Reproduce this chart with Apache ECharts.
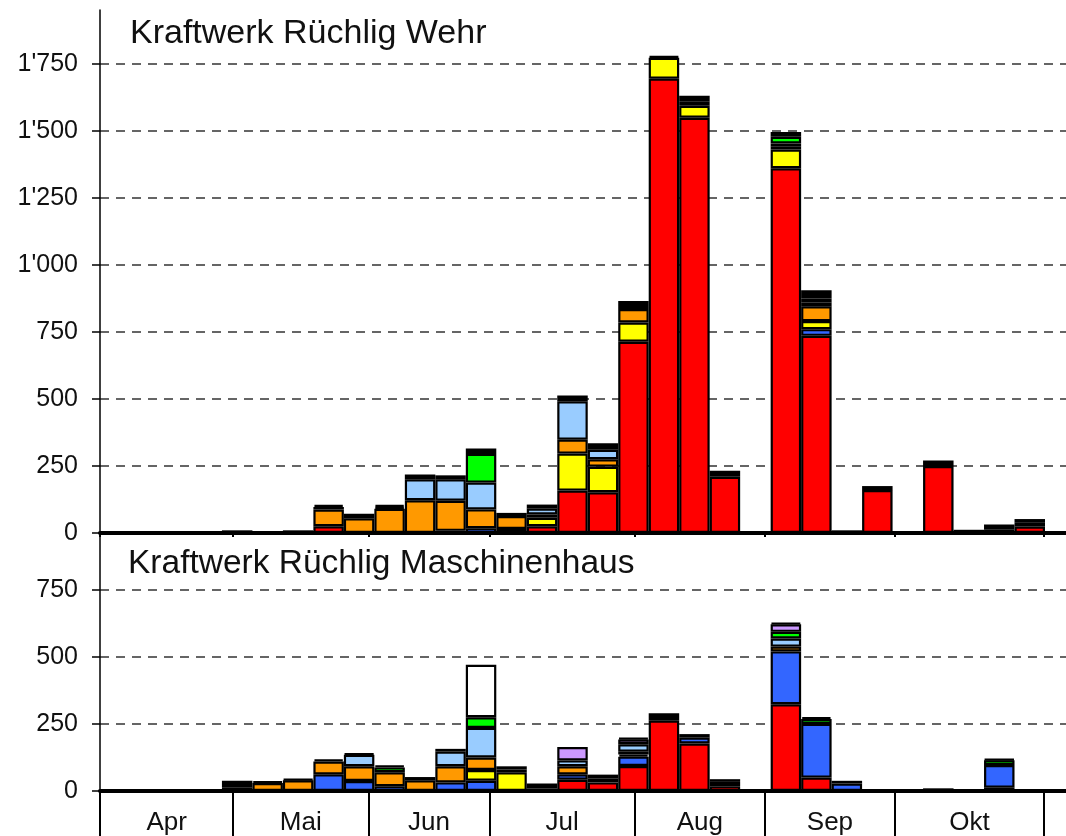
<!DOCTYPE html>
<html>
<head>
<meta charset="utf-8">
<script src="https://cdn.jsdelivr.net/npm/echarts@6/dist/echarts.min.js"></script>
<style>
  html, body { margin: 0; padding: 0; background: #fff; }
  #chart { width: 1066px; height: 836px; }
</style>
</head>
<body>
<div id="chart"></div>
<script>
// ---- data (weekly slots, 31 weeks from early April to end of October) ----
const weeks = Array.from({ length: 31 }, (_, i) => 'W' + (i + 1));
const monthNames = ['Apr', 'Mai', 'Jun', 'Jul', 'Aug', 'Sep', 'Okt'];
// month boundaries expressed in week-slot units
const monthBounds = [0, 4.37, 8.80, 12.78, 17.54, 21.81, 26.08, 30.97];
const yTicksTop = [0, 250, 500, 750, 1000, 1250, 1500, 1750];
const yTicksBottom = [0, 250, 500, 750];

const seriesNames = ['rot', 'blau', 'gelb', 'braun', 'orange', 'hellblau', 'gruen', 'lila', 'schwarz', 'weiss'];
const seriesColors = ['#ff0000', '#3366ff', '#ffff00', '#996600', '#ff9900', '#99ccff', '#00ff00', '#cc99ff', '#000000', '#ffffff'];

// Kraftwerk Rüchlig Wehr
const wehrRed      = [0,0,0,0,0,0,0,25,0,0,0,0,0,0,25,158,152,713,1694,1548,210,0,1360,735,0,160,0,250,0,0,24];
const wehrBlue     = [0,0,0,0,0,0,0,0,0,0,0,8,18,15,0,0,0,0,0,0,0,0,0,25,0,0,0,0,0,0,0];
const wehrYellow   = [0,0,0,0,0,0,0,0,0,0,0,0,0,0,32,138,95,72,78,45,0,0,70,30,0,0,0,0,0,0,0];
const wehrBrown    = [0,0,0,0,0,0,0,0,0,0,0,0,0,0,12,0,0,0,0,0,0,0,12,0,0,0,0,0,0,0,0];
const wehrOrange   = [0,0,0,0,0,0,0,62,55,90,122,112,70,48,0,52,28,50,6,15,0,0,0,55,0,0,0,0,0,12,14];
const wehrLBlue    = [0,0,0,0,0,0,0,10,0,0,78,80,100,0,22,143,35,0,0,0,0,0,10,15,0,0,0,0,0,0,0];
const wehrGreen    = [0,0,0,0,0,0,0,0,0,7,0,0,107,0,0,0,0,0,0,0,0,0,25,15,0,0,0,0,0,0,0];
const wehrLilac    = [0,0,0,0,0,0,0,0,0,0,0,0,0,0,0,0,0,0,0,0,0,0,0,0,0,0,0,0,0,0,0];
const wehrBlack    = [0,0,0,0,10,0,10,8,17,8,18,15,20,12,15,22,25,30,0,22,22,0,18,30,10,15,0,20,0,20,14];
const wehrWhite    = [0,0,0,0,0,0,0,0,0,0,0,0,0,0,0,0,0,0,0,0,0,0,0,0,0,0,0,0,12,0,0];

// Kraftwerk Rüchlig Maschinenhaus
const mhRed        = [0,0,0,0,0,0,0,0,0,0,0,0,0,0,0,42,32,93,262,177,18,0,323,50,0,0,0,0,0,12,0];
const mhBlue       = [0,0,0,0,0,0,0,62,37,18,0,32,38,0,0,20,0,35,0,22,16,0,197,200,28,0,0,0,0,85,0];
const mhYellow     = [0,0,0,0,0,0,0,0,0,0,0,0,40,70,0,0,0,0,0,0,0,0,0,0,0,0,0,0,0,0,0];
const mhBrown      = [0,0,0,0,12,0,0,0,0,0,0,0,0,10,10,0,14,8,0,0,0,0,0,0,0,0,0,0,0,0,0];
const mhOrange     = [0,0,0,0,0,30,40,48,55,52,40,60,47,0,0,30,0,10,0,0,0,0,18,0,0,0,0,0,0,0,0];
const mhLBlue      = [0,0,0,0,0,0,0,0,43,0,0,55,110,0,0,22,0,28,0,0,0,0,30,0,0,0,0,0,0,0,0];
const mhGreen      = [0,0,0,0,0,0,0,0,0,18,0,0,40,0,0,0,0,0,0,0,0,0,25,18,0,0,0,0,0,18,0];
const mhLilac      = [0,0,0,0,0,0,0,0,0,0,0,0,0,0,0,50,0,18,0,0,0,0,28,0,0,0,0,0,0,0,0];
const mhBlack      = [0,0,0,0,26,6,5,8,5,7,12,10,0,12,18,0,15,6,28,13,10,0,6,8,10,0,0,10,0,4,0];
const mhWhite      = [0,0,0,0,0,0,0,0,0,0,0,0,195,0,0,0,0,0,0,0,0,0,0,0,0,0,0,0,0,0,0];

const wehrData = [wehrRed, wehrBlue, wehrYellow, wehrBrown, wehrOrange, wehrLBlue, wehrGreen, wehrLilac, wehrBlack, wehrWhite];
const mhData = [mhRed, mhBlue, mhYellow, mhBrown, mhOrange, mhLBlue, mhGreen, mhLilac, mhBlack, mhWhite];

// ---- chart ----
const FONT = "'Liberation Sans', Arial, sans-serif";
const LEFT = 100, RIGHT_BARS = 21;
const SLOT = (1066 - LEFT - RIGHT_BARS) / weeks.length;
const X_MAX = (1066 - LEFT) / SLOT;
const labelPos = monthNames.map((m, i) => (monthBounds[i] + monthBounds[i + 1]) / 2);

const panels = [
  { top: 10, height: 523, max: 1950, ticks: yTicksTop, data: wehrData },
  { top: 536, height: 255, max: 950, ticks: yTicksBottom, data: mhData }
];

function fmtThousands(v) {
  return String(v).replace(/\B(?=(\d{3})+(?!\d))/g, "'");
}
function monthLabel(v) {
  let best = 0, d = Infinity;
  labelPos.forEach((p, i) => { const dd = Math.abs(p - v); if (dd < d) { d = dd; best = i; } });
  return monthNames[best];
}

const grid = [], xAxis = [], yAxis = [], series = [];
panels.forEach((pn, p) => {
  // frame grid: full width, axes, gridlines, month ticks
  grid.push({ left: LEFT, right: 0, top: pn.top, height: pn.height });
  // bar grid: 31 weekly slots
  grid.push({ left: LEFT, right: RIGHT_BARS, top: pn.top, height: pn.height });
  const gFrame = p * 2, gBars = p * 2 + 1;
  const bottomPanel = p === 1;

  xAxis.push({
    type: 'value', gridIndex: gFrame, min: 0, max: X_MAX,
    axisLine: { show: true, onZero: false, lineStyle: { color: '#000', width: 4 } },
    axisTick: {
      show: true, customValues: monthBounds, length: bottomPanel ? 60 : 4,
      lineStyle: { color: '#000', width: 2 }
    },
    axisLabel: bottomPanel ? {
      show: true, customValues: labelPos, formatter: monthLabel,
      fontFamily: FONT, fontSize: 26, color: '#111', margin: 19
    } : { show: false },
    splitLine: { show: false }
  });
  xAxis.push({
    type: 'category', gridIndex: gBars, data: weeks,
    axisLine: { show: false }, axisTick: { show: false }, axisLabel: { show: false },
    splitLine: { show: false }
  });
  yAxis.push({
    type: 'value', gridIndex: gFrame, min: 0, max: pn.max, interval: 250,
    axisLine: { show: true, lineStyle: { color: '#000', width: 1.5 } },
    axisTick: { show: true, customValues: pn.ticks, length: 8, lineStyle: { color: '#000', width: 1.5 } },
    axisLabel: {
      customValues: pn.ticks, formatter: fmtThousands,
      fontFamily: FONT, fontSize: 25, color: '#111', margin: 22
    },
    splitLine: { show: true, lineStyle: { color: '#333', width: 1.5, type: [9, 7] } }
  });
  yAxis.push({
    type: 'value', gridIndex: gBars, min: 0, max: pn.max, interval: 250,
    axisLine: { show: false }, axisTick: { show: false }, axisLabel: { show: false },
    splitLine: { show: false }
  });

  pn.data.forEach((arr, k) => {
    series.push({
      name: seriesNames[k], type: 'bar', stack: 'p' + p,
      xAxisIndex: gBars, yAxisIndex: gBars,
      barCategoryGap: '0%', z: 3,
      itemStyle: { color: seriesColors[k], borderColor: '#000', borderWidth: 2.2 },
      data: arr.map(v => (v === 0 ? '-' : v))
    });
  });
});

const chart = echarts.init(document.getElementById('chart'), null, { renderer: 'canvas' });
chart.setOption({
  animation: false,
  backgroundColor: '#fff',
  title: [
    { text: 'Kraftwerk Rüchlig Wehr', left: 125, top: 12,
      textStyle: { fontFamily: FONT, fontSize: 34, fontWeight: 'normal', color: '#111' } },
    { text: 'Kraftwerk Rüchlig Maschinenhaus', left: 123, top: 542,
      textStyle: { fontFamily: FONT, fontSize: 33.5, fontWeight: 'normal', color: '#111' } }
  ],
  grid, xAxis, yAxis, series
});
</script>
</body>
</html>
